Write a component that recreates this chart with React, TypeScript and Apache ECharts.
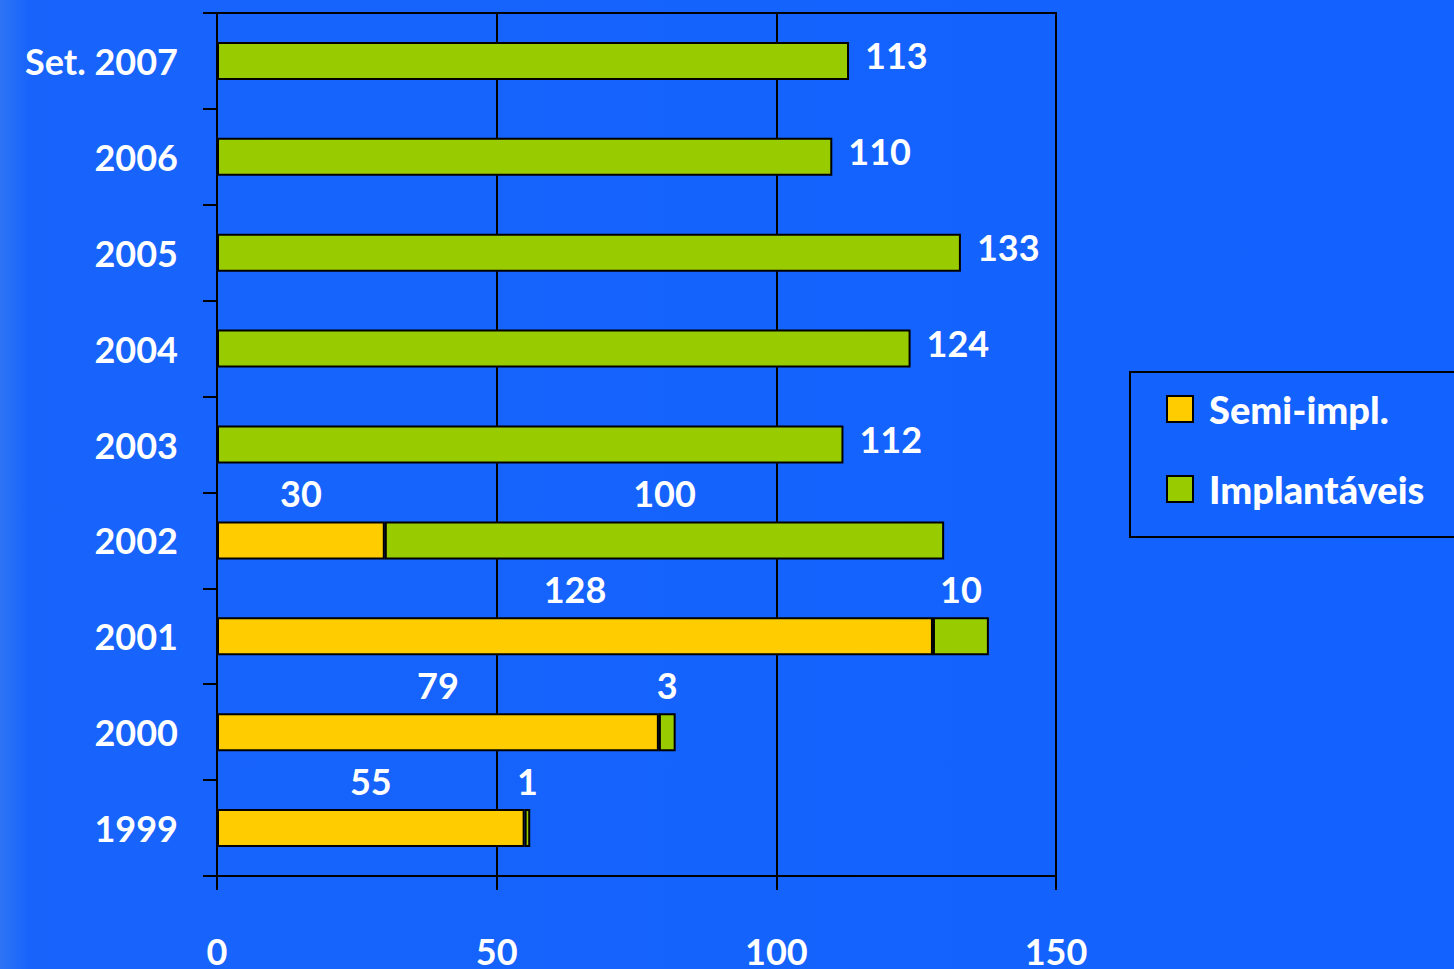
import React, { useEffect, useRef } from "react";
import * as echarts from "echarts";

const categories = ["1999", "2000", "2001", "2002", "2003", "2004", "2005", "2006", "Set. 2007"];
const semiImpl = [55, 79, 128, 30, 0, 0, 0, 0, 0];
const implantaveis = [1, 3, 10, 100, 112, 124, 133, 110, 113];
const xTicks = [0, 50, 100, 150];

const FONT = "Lato";
const WHITE = "#ffffff";
const BLACK = "#000000";

export default function App() {
  const ref = useRef<HTMLDivElement>(null);
  useEffect(() => {
    document.body.style.margin = "0";
    const chart = echarts.init(ref.current!, null, { renderer: "svg" });
    const labelText = { color: WHITE, fontSize: 36, fontWeight: "bold" as const, fontFamily: FONT };
    const option = {
      animation: false,
      backgroundColor: {
        type: "linear", x: 0, y: 0, x2: 1, y2: 0,
        colorStops: [
          { offset: 0, color: "#2d74f4" },
          { offset: 0.02, color: "#1864fb" },
          { offset: 1, color: "#1262ff" },
        ],
      },
      grid: {
        left: 217, top: 13, right: 398, bottom: 91,
        show: true, borderColor: BLACK, borderWidth: 2, backgroundColor: "transparent",
      },
      legend: {
        orient: "vertical",
        left: 1130, top: 372,
        padding: [18, 60, 29, 36],
        itemWidth: 26, itemHeight: 26, itemGap: 42,
        borderColor: BLACK, borderWidth: 2,
        icon: "rect",
        textStyle: { ...labelText, fontSize: 38, fontWeight: 900, padding: [0, 0, 0, 11] },
        data: ["Semi-impl.", "Implantáveis"],
      },
      xAxis: {
        type: "value", min: xTicks[0], max: xTicks[xTicks.length - 1], interval: 50,
        axisLine: { show: true, lineStyle: { color: BLACK, width: 2 } },
        axisTick: { show: true, length: 14, lineStyle: { color: BLACK, width: 2 } },
        splitLine: { show: true, lineStyle: { color: BLACK, width: 2 } },
        axisLabel: { ...labelText, margin: 57 },
      },
      yAxis: {
        type: "category", data: categories,
        axisLine: { show: true, lineStyle: { color: BLACK, width: 2 } },
        axisTick: { show: true, length: 14, lineStyle: { color: BLACK, width: 2 } },
        axisLabel: { ...labelText, margin: 39 },
      },
      series: [
        {
          name: "Semi-impl.", type: "bar", stack: "total", barWidth: 38,
          itemStyle: { color: "#ffcc00", borderColor: BLACK, borderWidth: 2 },
          label: { show: true, position: "top", distance: 10, ...labelText },
          data: semiImpl.map((v) => (v === 0 ? "-" : v)),
        },
        {
          name: "Implantáveis", type: "bar", stack: "total", barWidth: 38,
          itemStyle: { color: "#99cc00", borderColor: BLACK, borderWidth: 2 },
          label: { show: true, position: "top", distance: 10, ...labelText },
          data: implantaveis.map((v, i) =>
            semiImpl[i] === 0
              ? { value: v, label: { position: "right", distance: 16, offset: [0, -6] } }
              : v
          ),
        },
      ],
    };
    chart.setOption(option as any);
    return () => chart.dispose();
  }, []);
  return <div ref={ref} style={{ position: "fixed", left: 0, top: 0, width: 1454, height: 969 }} />;
}
